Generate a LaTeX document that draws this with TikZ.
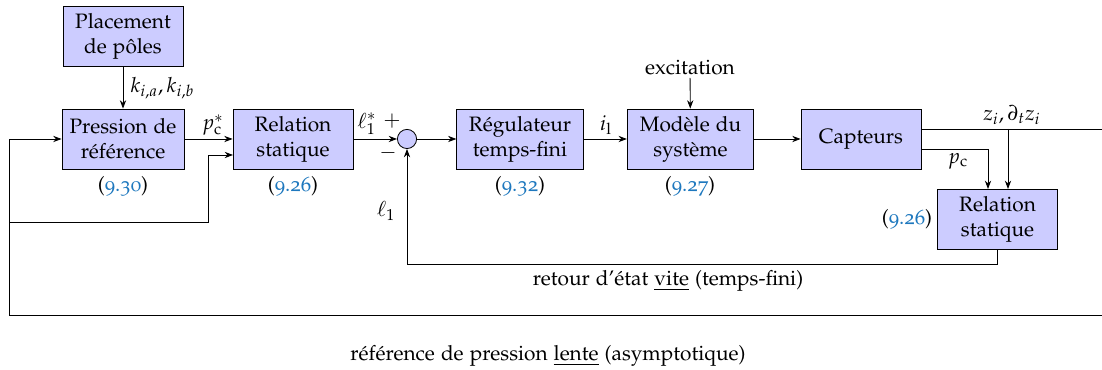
\documentclass[tikz,border=0pt]{standalone}
\usepackage[T1]{fontenc}
\usepackage[osf]{mathpazo}
\usetikzlibrary{arrows.meta}
\definecolor{blockfill}{RGB}{204,204,255}
\definecolor{eqblue}{RGB}{30,120,190}
\newcommand{\eqr}[1]{(\textcolor{eqblue}{#1})}
\begin{document}
\begin{tikzpicture}[x=0.48pt,y=-0.48pt,
  block/.style={draw, fill=blockfill, minimum width=57.6pt, minimum height=28.8pt, align=center, inner sep=0pt, font=\normalsize},
  wide/.style={minimum width=60.7pt},
  sumnode/.style={draw, circle, fill=blockfill, minimum size=9.2pt, inner sep=0pt},
  lbl/.style={inner sep=1pt},
  conn/.style={thin, -{Stealth[length=4pt,width=3pt]}},
  plain/.style={thin}]
\useasboundingbox (0,0) rectangle (1102,370);
% blocks
\node[block] (place) at (123,36.5) {Placement\\de p\^oles};
\node[block, minimum width=58.6pt] (pres) at (123,139) {Pression de\\r\'ef\'erence};
\node[block] (rel1) at (293,139) {Relation\\statique};
\node[sumnode] (sum) at (407,139) {};
\node[block, wide] (reg) at (520,139) {R\'egulateur\\temps-fini};
\node[block, wide] (mod) at (690.5,139) {Mod\`ele du\\syst\`eme};
\node[block] (capt) at (861,139) {Capteurs};
\node[block] (rel2) at (997.5,219) {Relation\\statique};
\node[lbl] (exc) at (690,68) {excitation};
% coordinates
\coordinate (zout) at (921,129);
\coordinate (zend) at (1102,129);
\coordinate (zbr) at (1008,129);
\coordinate (zin) at (1008,189);
\coordinate (pout) at (921,149);
\coordinate (pcor) at (988,149);
\coordinate (pin) at (988,189);
\coordinate (fb1) at (997.5,264);
\coordinate (fb2) at (407,264);
\coordinate (lend) at (1102,315);
\coordinate (l1) at (9,315);
\coordinate (l2) at (9,139);
\coordinate (lbr) at (9,222);
\coordinate (lc1) at (208,222);
\coordinate (lc2) at (208,155);
\coordinate (lin) at (233,155);
% connectors
\draw[conn] (place) -- (pres);
\draw[conn] (pres) -- (rel1);
\draw[conn] (rel1) -- (sum);
\draw[conn] (sum) -- (reg);
\draw[conn] (reg) -- (mod);
\draw[conn] (mod) -- (capt);
\draw[conn] (exc) -- (mod);
\draw[plain] (zout) -- (zend);
\draw[conn] (zbr) -- (zin);
\draw[conn] (pout) -- (pcor) -- (pin);
\draw[conn] (rel2.south) -- (fb1) -- (fb2) -- (sum.south);
\draw[conn] (lend) -- (l1) -- (l2) -- (pres.west);
\draw[conn] (lbr) -- (lc1) -- (lc2) -- (lin);
% labels
\node[lbl, anchor=west] (klab) at (128,88) {$k_{i,a},k_{i,b}$};
\node[lbl] (pclab) at (213,125) {$p_{\mathrm{c}}^*$};
\node[lbl] (l1slab) at (367,124) {$\ell_1^*$};
\node[lbl] (plus) at (392,121) {$+$};
\node[lbl] (minus) at (388,153) {$-$};
\node[lbl] (l1lab) at (386,211) {$\ell_1$};
\node[lbl] (ilab) at (606,125) {$i_{\mathrm{l}}$};
\node[lbl] (zlab) at (1012,115) {$z_i,\partial_t z_i$};
\node[lbl] (pc2lab) at (958,161) {$p_{\mathrm{c}}$};
\node[lbl] (e1) at (123,186) {\eqr{9.30}};
\node[lbl] (e2) at (293,186) {\eqr{9.26}};
\node[lbl] (e3) at (520,186) {\eqr{9.32}};
\node[lbl] (e4) at (690,186) {\eqr{9.27}};
\node[lbl] (e5) at (907,219) {\eqr{9.26}};
\node[lbl] (ret) at (668,281) {retour d'\'etat \underline{vite} (temps-fini)};
\node[lbl] (refl) at (548,356) {r\'ef\'erence de pression \underline{lente} (asymptotique)};
\end{tikzpicture}
\end{document}
